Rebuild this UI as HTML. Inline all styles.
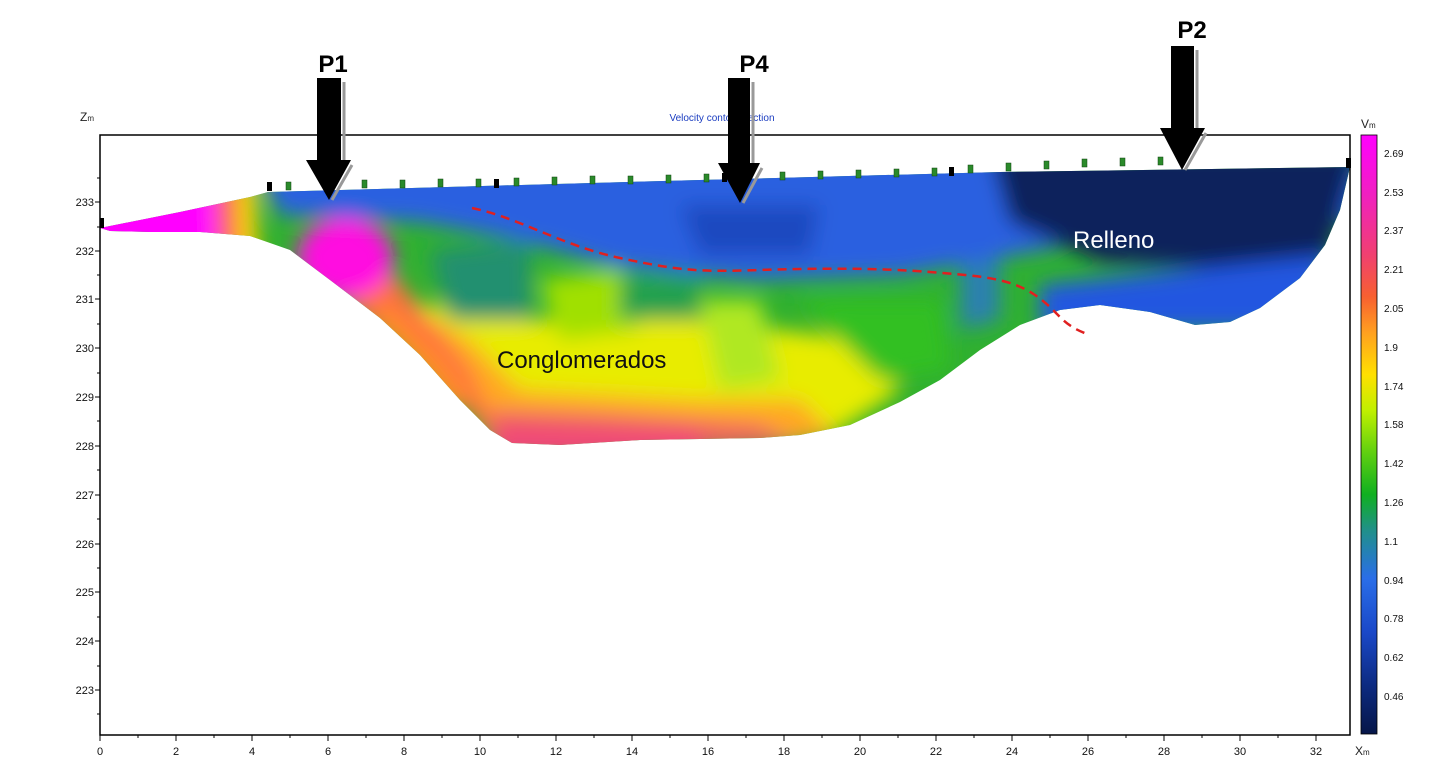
<!DOCTYPE html>
<html><head><meta charset="utf-8"><style>
html,body{margin:0;padding:0;background:#fff}
svg{display:block;font-family:"Liberation Sans",sans-serif}
</style></head><body>
<svg width="1450" height="772" viewBox="0 0 1450 772">
<defs>
<clipPath id="sec"><path d="M100,228 L180,212 L250,197 L268,192 L700,180 L1000,172 L1350,167 L1340,210 L1325,245 L1300,278 L1260,308 L1230,322 L1195,325 L1150,312 L1100,305 L1060,310 L1020,325 L980,350 L940,380 L900,402 L850,425 L800,435 L760,438 L640,440 L560,445 L512,443 L490,430 L460,400 L420,355 L380,318 L330,280 L290,250 L250,236 L200,232 L150,232 L110,231 Z"/></clipPath>
<filter id="bl" x="-20%" y="-20%" width="140%" height="140%"><feGaussianBlur stdDeviation="10"/></filter>
<linearGradient id="cb" x1="0" y1="0" x2="0" y2="1">
<stop offset="0" stop-color="#ff00ff"/><stop offset="0.1" stop-color="#f020c0"/><stop offset="0.2" stop-color="#f04070"/><stop offset="0.27" stop-color="#f86030"/><stop offset="0.33" stop-color="#ffa020"/><stop offset="0.4" stop-color="#ffe000"/><stop offset="0.46" stop-color="#c0f000"/><stop offset="0.53" stop-color="#60d010"/><stop offset="0.6" stop-color="#10b020"/><stop offset="0.66" stop-color="#20908a"/><stop offset="0.74" stop-color="#2a6ee8"/><stop offset="0.83" stop-color="#1a48c8"/><stop offset="0.92" stop-color="#0c2a80"/><stop offset="1" stop-color="#061648"/>
</linearGradient>
</defs>
<g clip-path="url(#sec)">
<rect x="90" y="150" width="1270" height="310" fill="#30b030"/>
<g filter="url(#bl)">
<path d="M60,180 L215,180 L225,260 L60,260 Z" fill="#ff00ff"/>
<path d="M215,180 L235,180 L238,260 L218,260 Z" fill="#ff6040"/>
<path d="M236,180 L256,180 L258,270 L238,260 Z" fill="#ffd000"/>
<path d="M400,300 L520,320 L700,320 L860,340 L900,390 L840,430 L700,430 L520,420 L450,400 Z" fill="#e8ec00"/>
<path d="M400,300 L470,340 L520,390 L700,400 L800,400 L840,440 L560,450 L490,440 L430,360 L380,300 Z" fill="#ffa820"/>
<path d="M480,410 L600,415 L760,425 L800,445 L500,460 Z" fill="#f06060"/>
<path d="M490,425 L700,430 L700,460 L490,460 Z" fill="#f04a78"/>
<path d="M300,260 L390,270 L470,370 L500,440 L430,380 Z" fill="#ff7040"/>
<path d="M380,300 L440,360 L470,400 L450,410 L380,330 Z" fill="#ff9020"/>
<ellipse cx="345" cy="258" rx="48" ry="40" fill="#ff10e0"/>
<path d="M540,280 L620,270 L640,330 L560,340 Z" fill="#a0e000"/>
<path d="M700,300 L760,300 L780,380 L720,390 Z" fill="#b0e820"/>
<path d="M800,300 L940,300 L950,370 L880,380 Z" fill="#30c020"/>
<path d="M430,250 L530,240 L530,320 L450,320 Z" fill="#209070"/>
<path d="M620,280 L700,275 L700,320 L620,320 Z" fill="#20a050"/>
<path d="M960,240 L1000,240 L1000,320 L960,330 Z" fill="#2a80b0"/>
<path d="M250,150 L1360,150 L1360,220 L1100,240 L900,275 L760,280 L620,268 L520,240 L420,222 L280,215 Z" fill="#2a60e0"/>
<path d="M990,150 L1360,150 L1330,255 L1250,270 L1100,262 L1010,222 Z" fill="#08205c"/>
<path d="M1040,285 L1330,255 L1300,330 L1040,330 Z" fill="#2456e0"/>
<path d="M680,205 L820,205 L810,255 L700,255 Z" fill="#1a48c0"/>
</g>
</g>
<rect x="100" y="135" width="1250" height="600" fill="none" stroke="#000" stroke-width="1.5"/>
<g stroke="#000" stroke-width="1">
<line x1="95" y1="202" x2="100" y2="202"/><line x1="95" y1="251" x2="100" y2="251"/><line x1="95" y1="299" x2="100" y2="299"/><line x1="95" y1="348" x2="100" y2="348"/><line x1="95" y1="397" x2="100" y2="397"/><line x1="95" y1="446" x2="100" y2="446"/><line x1="95" y1="495" x2="100" y2="495"/><line x1="95" y1="544" x2="100" y2="544"/><line x1="95" y1="592" x2="100" y2="592"/><line x1="95" y1="641" x2="100" y2="641"/><line x1="95" y1="690" x2="100" y2="690"/>
<line x1="97" y1="178" x2="100" y2="178"/><line x1="97" y1="227" x2="100" y2="227"/><line x1="97" y1="275" x2="100" y2="275"/><line x1="97" y1="324" x2="100" y2="324"/><line x1="97" y1="373" x2="100" y2="373"/><line x1="97" y1="421" x2="100" y2="421"/><line x1="97" y1="470" x2="100" y2="470"/><line x1="97" y1="519" x2="100" y2="519"/><line x1="97" y1="568" x2="100" y2="568"/><line x1="97" y1="617" x2="100" y2="617"/><line x1="97" y1="666" x2="100" y2="666"/><line x1="97" y1="714" x2="100" y2="714"/>
</g>
<g font-size="11" text-anchor="end" fill="#111">
<text x="94" y="206">233</text><text x="94" y="255">232</text><text x="94" y="303">231</text><text x="94" y="352">230</text><text x="94" y="401">229</text><text x="94" y="450">228</text><text x="94" y="499">227</text><text x="94" y="548">226</text><text x="94" y="596">225</text><text x="94" y="645">224</text><text x="94" y="694">223</text>
</g>
<text x="80" y="121" font-size="12" fill="#222">Z<tspan font-size="8">m</tspan></text>
<g stroke="#000">
<path d="M100,735v6M176,735v6M252,735v6M328,735v6M404,735v6M480,735v6M556,735v6M632,735v6M708,735v6M784,735v6M860,735v6M936,735v6M1012,735v6M1088,735v6M1164,735v6M1240,735v6M1316,735v6"/>
<path d="M138,735v3M214,735v3M290,735v3M366,735v3M442,735v3M518,735v3M594,735v3M670,735v3M746,735v3M822,735v3M898,735v3M974,735v3M1050,735v3M1126,735v3M1202,735v3M1278,735v3"/>
</g>
<g font-size="11" text-anchor="middle" fill="#111">
<text x="100" y="755">0</text><text x="176" y="755">2</text><text x="252" y="755">4</text><text x="328" y="755">6</text><text x="404" y="755">8</text><text x="480" y="755">10</text><text x="556" y="755">12</text><text x="632" y="755">14</text><text x="708" y="755">16</text><text x="784" y="755">18</text><text x="860" y="755">20</text><text x="936" y="755">22</text><text x="1012" y="755">24</text><text x="1088" y="755">26</text><text x="1164" y="755">28</text><text x="1240" y="755">30</text><text x="1316" y="755">32</text>
</g>
<text x="1355" y="755" font-size="12" fill="#222">X<tspan font-size="8">m</tspan></text>
<rect x="1361" y="135" width="16" height="599" fill="url(#cb)" stroke="#000" stroke-width="0.8"/>
<g font-size="10" fill="#111">
<text x="1384" y="157">2.69</text><text x="1384" y="196">2.53</text><text x="1384" y="234">2.37</text><text x="1384" y="273">2.21</text><text x="1384" y="312">2.05</text><text x="1384" y="351">1.9</text><text x="1384" y="390">1.74</text><text x="1384" y="428">1.58</text><text x="1384" y="467">1.42</text><text x="1384" y="506">1.26</text><text x="1384" y="545">1.1</text><text x="1384" y="584">0.94</text><text x="1384" y="622">0.78</text><text x="1384" y="661">0.62</text><text x="1384" y="700">0.46</text>
</g>
<text x="1361" y="128" font-size="12" fill="#222">V<tspan font-size="8">m</tspan></text>
<text x="722" y="121" font-size="10" fill="#1a3cc0" text-anchor="middle">Velocity contour section</text>
<g fill="#2a8a2a" stroke="#114411" stroke-width="0.5">
<rect x="286" y="182" width="5" height="8"/><rect x="362" y="180" width="5" height="8"/><rect x="400" y="180" width="5" height="8"/><rect x="438" y="179" width="5" height="8"/><rect x="476" y="179" width="5" height="8"/><rect x="514" y="178" width="5" height="8"/><rect x="552" y="177" width="5" height="8"/><rect x="590" y="176" width="5" height="8"/><rect x="628" y="176" width="5" height="8"/><rect x="666" y="175" width="5" height="8"/><rect x="704" y="174" width="5" height="8"/><rect x="780" y="172" width="5" height="8"/><rect x="818" y="171" width="5" height="8"/><rect x="856" y="170" width="5" height="8"/><rect x="894" y="169" width="5" height="8"/><rect x="932" y="168" width="5" height="8"/><rect x="968" y="165" width="5" height="8"/><rect x="1006" y="163" width="5" height="8"/><rect x="1044" y="161" width="5" height="8"/><rect x="1082" y="159" width="5" height="8"/><rect x="1120" y="158" width="5" height="8"/><rect x="1158" y="157" width="5" height="8"/>
</g>
<g fill="#000"><rect x="267" y="182" width="5" height="9"/><rect x="494" y="179" width="5" height="9"/><rect x="722" y="173" width="5" height="9"/><rect x="949" y="167" width="5" height="9"/><rect x="1346" y="158" width="5" height="10"/><rect x="100" y="218" width="4" height="10"/></g>
<path d="M472,208 C520,218 560,245 620,258 S700,272 760,270 S880,268 930,272 S1010,278 1035,295 S1060,325 1090,335" fill="none" stroke="#e02020" stroke-width="2.5" stroke-dasharray="9,6"/>
<text x="497" y="368" font-size="24" fill="#111">Conglomerados</text>
<text x="1073" y="248" font-size="24" fill="#fff">Relleno</text>
<g fill="#000">
<path d="M317,78 H341 V160 H351 L329,200 L306,160 H317 Z"/>
<path d="M728,78 H750 V163 H760 L740,203 L718,163 H728 Z"/>
<path d="M1171,46 H1194 V128 H1205 L1182,170 L1160,128 H1171 Z"/>
</g>
<g stroke="#999" stroke-width="3" fill="none"><path d="M344,82 V160 M352,165 L332,200"/><path d="M753,82 V163 M762,168 L743,203"/><path d="M1197,50 V128 M1206,133 L1185,170"/></g>
<g font-size="24" font-weight="bold" fill="#000" text-anchor="middle">
<text x="333" y="72">P1</text><text x="754" y="72">P4</text><text x="1192" y="38">P2</text>
</g>
</svg>
</body></html>
